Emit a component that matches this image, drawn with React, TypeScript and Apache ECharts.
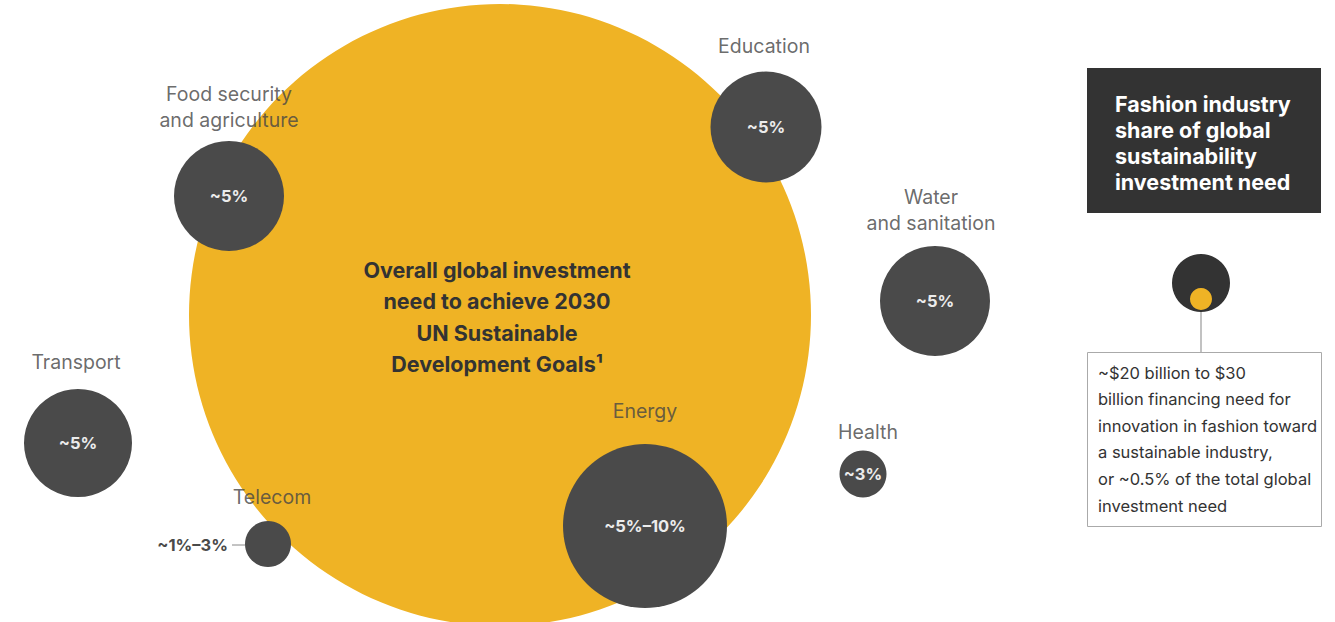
import React, { useEffect, useRef } from "react";
import * as echarts from "echarts";

const W = 1335;
const H = 622;
const FONT = "Inter";

// Bubbles (position in page pixels, diameter in pixels)
const bubbleNames = ["Overall", "Food security and agriculture", "Education", "Water and sanitation", "Transport", "Telecom", "Energy", "Health"];
const bubbleX = [500, 229, 766, 935, 78, 268, 645, 863];
const bubbleY = [315, 196, 127, 301, 443, 544, 526, 474];
const bubbleSize = [622, 110, 111, 110, 108, 46, 164, 47];
const bubbleValue = ["", "~5%", "~5%", "~5%", "~5%", "", "~5%–10%", "~3%"];
const centerText = "Overall global investment\nneed to achieve 2030\nUN Sustainable\nDevelopment Goals¹";

// Category labels
const labelTexts = ["Food security\nand agriculture", "Education", "Water\nand sanitation", "Transport", "Telecom", "Energy", "Health"];
const labelX = [229, 764, 931, 76, 272, 645, 868];
const labelY = [107, 46, 210, 362, 497, 411, 432];

// Fashion share
const fashionX = [1201, 1201];
const fashionY = [283, 299];
const fashionSize = [58, 22];
const fashionTitle = "Fashion industry\nshare of global\nsustainability\ninvestment need";
const fashionNote = "~$20 billion to $30\nbillion financing need for\ninnovation in fashion toward\na sustainable industry,\nor ~0.5% of the total global\ninvestment need";
const telecomValue = "~1%–3%";

const YELLOW = "#EFB325";
const DARK = "#4A4A4A";

export default function App() {
  const ref = useRef<HTMLDivElement>(null);
  useEffect(() => {
    const chart = echarts.init(ref.current!, undefined, { renderer: "svg" });
    const bubbleData = bubbleNames.map((n, i) => ({
      name: n,
      value: [bubbleX[i], bubbleY[i], bubbleSize[i]],
      itemStyle: { color: i === 0 ? YELLOW : DARK, opacity: 1 },
      label: i === 0
        ? { show: true, formatter: centerText, color: "#333", fontSize: 21.5, fontWeight: "bold", lineHeight: 31.5, fontFamily: FONT, align: "center", offset: [-3, 2] }
        : { show: bubbleValue[i] !== "", formatter: bubbleValue[i], color: "#ececec", fontSize: 16.5, fontWeight: "bold", fontFamily: FONT },
    }));
    const labelData = labelTexts.map((t, i) => ({ name: t, value: [labelX[i], labelY[i]] }));
    const fashionData = fashionX.map((x, i) => ({
      value: [x, fashionY[i], fashionSize[i]],
      itemStyle: { color: i === 0 ? "#333333" : YELLOW, opacity: 1 },
    }));
    chart.setOption({
      animation: false,
      grid: { left: 0, right: 0, top: 0, bottom: 0 },
      xAxis: { type: "value", min: 0, max: W, show: false },
      yAxis: { type: "value", min: 0, max: H, inverse: true, show: false },
      series: [
        {
          type: "scatter",
          data: bubbleData,
          symbolSize: (v: number[]) => v[2],
          label: { position: "inside" },
          emphasis: { disabled: true },
          silent: true,
        },
        {
          type: "scatter",
          data: labelData,
          symbolSize: 0,
          label: { show: true, position: "inside", formatter: (p: any) => p.name, color: "#454545", fontSize: 19.5, lineHeight: 26, fontFamily: FONT, align: "center" },
          silent: true,
        },
        {
          type: "scatter",
          data: fashionData,
          symbolSize: (v: number[]) => v[2],
          silent: true,
        },
      ],
      graphic: [
        { type: "rect", shape: { x: 1087, y: 68, width: 234, height: 145 }, style: { fill: "#333333" } },
        { type: "text", x: 1115, y: 143, style: { text: fashionTitle, fill: "#fff", fontSize: 21.5, fontWeight: "bold", fontFamily: FONT, lineHeight: 26.3, verticalAlign: "middle" } },
        { type: "line", shape: { x1: 1201, y1: 310, x2: 1201, y2: 352 }, style: { stroke: "#999", lineWidth: 1.2 } },
        { type: "rect", shape: { x: 1087.5, y: 352.5, width: 234, height: 174 }, style: { fill: "#fff", stroke: "#aaa", lineWidth: 1 } },
        { type: "text", x: 1098, y: 439, style: { text: fashionNote, fill: "#333", fontSize: 16.5, fontFamily: FONT, lineHeight: 26.6, verticalAlign: "middle" } },
        { type: "line", shape: { x1: 232, y1: 545, x2: 245, y2: 545 }, style: { stroke: "#888", lineWidth: 1 } },
        { type: "text", x: 228, y: 545, style: { text: telecomValue, fill: "#4a4a4a", fontSize: 16.5, fontWeight: "bold", fontFamily: FONT, align: "right", verticalAlign: "middle" } },
      ],
    });
    return () => chart.dispose();
  }, []);
  return <div ref={ref} style={{ position: "fixed", left: 0, top: 0, width: W, height: H, background: "#fff" }} />;
}
